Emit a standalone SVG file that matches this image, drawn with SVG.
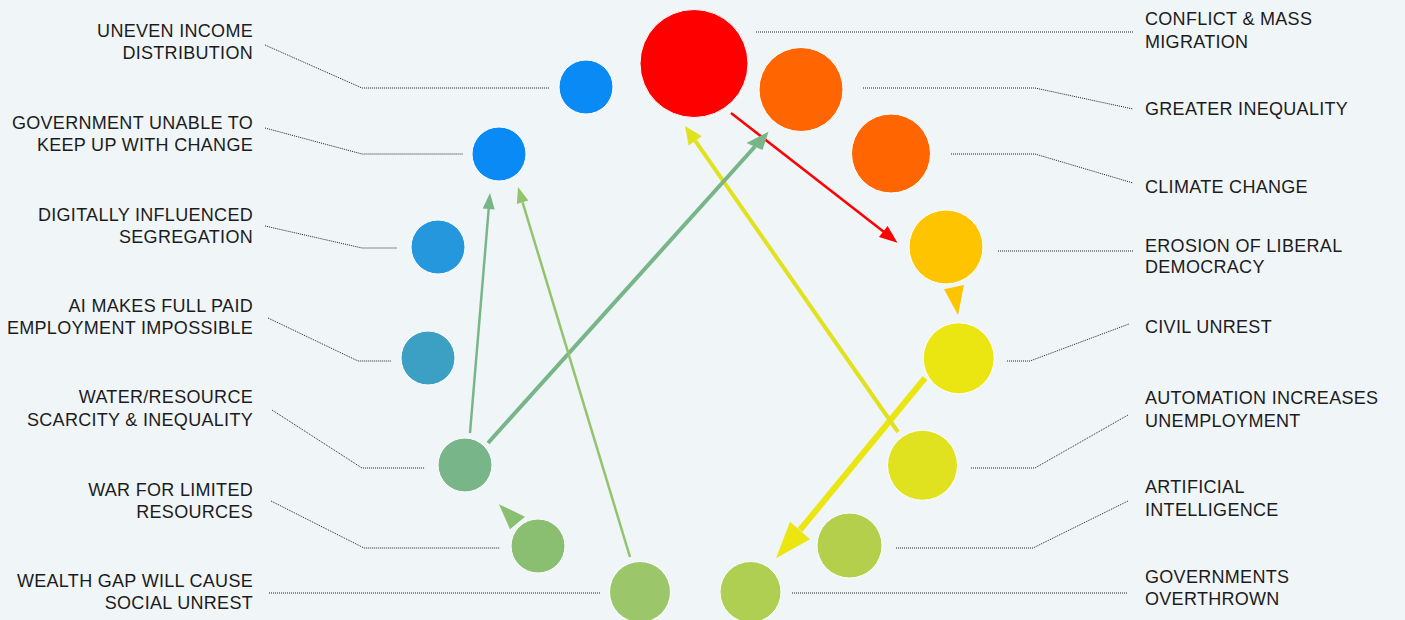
<svg xmlns="http://www.w3.org/2000/svg" width="1405" height="620" viewBox="0 0 1405 620">
<style>
text{font-family:"Liberation Sans",Arial,sans-serif;font-size:18px;fill:#1c1c1c;letter-spacing:0.3px}
.l{text-anchor:end}
.lead{fill:none;stroke:#222;stroke-width:1;stroke-dasharray:1 1}
.c{stroke:#fff;stroke-width:1}
.a{fill:none;stroke-linecap:butt}
</style>
<rect width="1405" height="620" fill="#f0f5f8"/>
<g id="connectors">
<line class="a" x1="731" y1="113" x2="884" y2="232" stroke="#ff0000" stroke-width="2.5"/>
<polygon points="897.5,242.7 879,237.1 887.6,226.1" fill="#ff0000"/>
<polygon points="958,315 944,289.3 964,285" fill="#fec400"/>
<line class="a" x1="925" y1="378" x2="800" y2="530" stroke="#ebe612" stroke-width="6"/>
<polygon points="776,558.3 790,521.7 810,539.3" fill="#ebe612"/>
<line class="a" x1="898" y1="432" x2="695.3" y2="140.8" stroke="#e0e21f" stroke-width="4"/>
<polygon points="685,126 688.7,145.4 701.8,136.2" fill="#e0e21f"/>
<line class="a" x1="488" y1="443" x2="755" y2="146.5" stroke="#78b68a" stroke-width="4"/>
<polygon points="768.5,131.7 746.5,143 762.5,150" fill="#78b68a"/>
<line class="a" x1="470" y1="433" x2="488.7" y2="209" stroke="#78b68a" stroke-width="2.5"/>
<polygon points="490,193 482.7,208.5 494.7,209.5" fill="#78b68a"/>
<line class="a" x1="630" y1="557" x2="522.6" y2="202.3" stroke="#92c46e" stroke-width="2.5"/>
<polygon points="518,187 516.9,204 528.4,200.5" fill="#92c46e"/>
<polygon points="499,504.3 525,516.7 510,529.3" fill="#8abf72"/>
</g>
<g id="n1">
<polyline class="lead" points="265,45 362,88 549,88"/>
<circle class="c" cx="586" cy="87" r="27" fill="#0a8af5"/>
<text class="l" x="253" y="37">UNEVEN INCOME</text>
<text class="l" x="253" y="59">DISTRIBUTION</text>
</g>
<g id="n2">
<polyline class="lead" points="265,128 362,154 463,154"/>
<circle class="c" cx="499" cy="154" r="27" fill="#0a8af5"/>
<text class="l" x="253" y="129">GOVERNMENT UNABLE TO</text>
<text class="l" x="253" y="151">KEEP UP WITH CHANGE</text>
</g>
<g id="n3">
<polyline class="lead" points="265,226 362,248 397,248"/>
<circle class="c" cx="438" cy="247" r="27" fill="#2597dc"/>
<text class="l" x="253" y="221">DIGITALLY INFLUENCED</text>
<text class="l" x="253" y="243">SEGREGATION</text>
</g>
<g id="n4">
<polyline class="lead" points="268,318 358,361 391,361"/>
<circle class="c" cx="428" cy="358" r="27" fill="#3ca0c4"/>
<text class="l" x="253" y="312">AI MAKES FULL PAID</text>
<text class="l" x="253" y="334">EMPLOYMENT IMPOSSIBLE</text>
</g>
<g id="n5">
<polyline class="lead" points="272,410 362,468 425,468"/>
<circle class="c" cx="465" cy="465" r="27" fill="#78b68a"/>
<text class="l" x="253" y="403">WATER/RESOURCE</text>
<text class="l" x="253" y="426">SCARCITY &amp; INEQUALITY</text>
</g>
<g id="n6">
<polyline class="lead" points="271,501 364,548 500,548"/>
<circle class="c" cx="538" cy="546" r="27" fill="#8abf72"/>
<text class="l" x="253" y="496">WAR FOR LIMITED</text>
<text class="l" x="253" y="518">RESOURCES</text>
</g>
<g id="n7">
<polyline class="lead" points="269,593 601,593"/>
<circle class="c" cx="640" cy="592" r="30.5" fill="#9bc76a"/>
<text class="l" x="253" y="587">WEALTH GAP WILL CAUSE</text>
<text class="l" x="253" y="609">SOCIAL UNREST</text>
</g>
<g id="n8">
<polyline class="lead" points="792,593 1128,593"/>
<circle class="c" cx="750.5" cy="592" r="30.5" fill="#aecf52"/>
<text x="1145" y="583">GOVERNMENTS</text>
<text x="1145" y="605">OVERTHROWN</text>
</g>
<g id="n9">
<polyline class="lead" points="896,548 1033,548 1128,501"/>
<circle class="c" cx="849.5" cy="545.5" r="32.5" fill="#b4cf4b"/>
<text x="1145" y="493">ARTIFICIAL</text>
<text x="1145" y="516">INTELLIGENCE</text>
</g>
<g id="n10">
<polyline class="lead" points="971,468 1035,468 1128,415"/>
<circle class="c" cx="922.5" cy="465.3" r="35" fill="#e0e21f"/>
<text x="1145" y="404">AUTOMATION INCREASES</text>
<text x="1145" y="427">UNEMPLOYMENT</text>
</g>
<g id="n11">
<polyline class="lead" points="1007,361 1030,361 1129,324"/>
<circle class="c" cx="958.7" cy="358.3" r="35.5" fill="#ebe612"/>
<text x="1145" y="333">CIVIL UNREST</text>
</g>
<g id="n12">
<polyline class="lead" points="998,251 1133,251"/>
<circle class="c" cx="946" cy="247" r="37" fill="#fec400"/>
<text x="1145" y="252">EROSION OF LIBERAL</text>
<text x="1145" y="273">DEMOCRACY</text>
</g>
<g id="n13">
<polyline class="lead" points="951,154 1035,154 1133,183"/>
<circle class="c" cx="891" cy="153.5" r="39.5" fill="#ff6500"/>
<text x="1145" y="193">CLIMATE CHANGE</text>
</g>
<g id="n14">
<polyline class="lead" points="863,88 1035,88 1133,109"/>
<circle class="c" cx="801" cy="89.5" r="42" fill="#ff6500"/>
<text x="1145" y="115">GREATER INEQUALITY</text>
</g>
<g id="n15">
<polyline class="lead" points="756,32 1133,32"/>
<circle class="c" cx="694" cy="63.5" r="54" fill="#ff0000"/>
<text x="1145" y="25">CONFLICT &amp; MASS</text>
<text x="1145" y="48">MIGRATION</text>
</g>
</svg>
